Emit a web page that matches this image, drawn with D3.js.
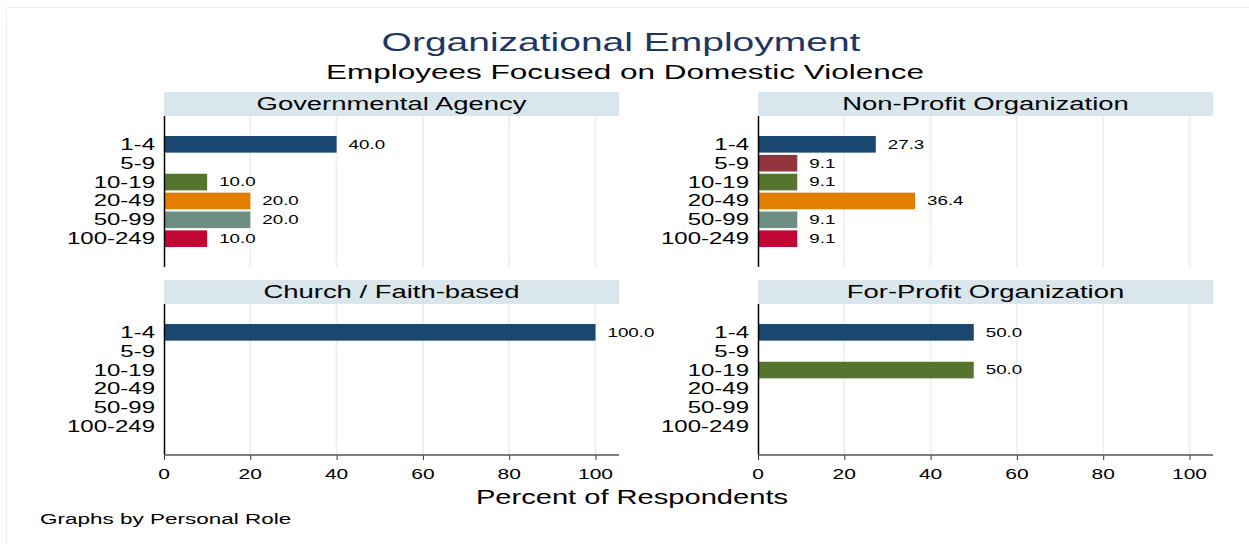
<!DOCTYPE html>
<html>
<head>
<meta charset="utf-8">
<script src="https://cdn.jsdelivr.net/npm/d3@7"></script>
<style>
  body { margin: 0; background: #fff; }
  text { font-family: "Liberation Sans", Arial, sans-serif; }
</style>
</head>
<body>
<div id="chart"></div>
<script>
// categories and values
const sizes = ['1-4', '5-9', '10-19', '20-49', '50-99', '100-249'];
const panels = ['Governmental Agency', 'Non-Profit Organization', 'Church / Faith-based', 'For-Profit Organization'];
const govValues = [40.0, null, 10.0, 20.0, 20.0, 10.0];
const nonProfitValues = [27.3, 9.1, 9.1, 36.4, 9.1, 9.1];
const churchValues = [100.0, null, null, null, null, null];
const forProfitValues = [50.0, null, 50.0, null, null, null];
const xTicks = [0, 20, 40, 60, 80, 100];

// stata s2color
const colors = ['#1a476f', '#90353b', '#55752f', '#e37e00', '#6e8e84', '#c10534'];

const width = 1249, height = 544;
const sx = 1.5; // text is drawn horizontally stretched

const svg = d3.select('#chart').append('svg')
  .attr('width', width)
  .attr('height', height);

// faint outer frame
svg.append('rect')
  .attr('x', 6.5).attr('y', 7.5)
  .attr('width', 1300).attr('height', 600)
  .attr('fill', 'none')
  .attr('stroke', '#e6eff1');

// helper for stretched text
function stext(g, x, y, str, size, anchor, color) {
  return g.append('text')
    .attr('transform', `translate(${x},${y}) scale(${sx},1)`)
    .attr('text-anchor', anchor)
    .attr('dominant-baseline', 'central')
    .attr('font-size', size)
    .attr('fill', color || '#000')
    .text(str);
}

stext(svg, 621, 42, 'Organizational Employment', 26, 'middle', '#1c3766');
stext(svg, 625, 72, 'Employees Focused on Domestic Violence', 21, 'middle', '#000');

const panelData = [govValues, nonProfitValues, churchValues, forProfitValues];
const lefts = [164, 758];
const tops = [92, 280];
const panelW = 455;
const stripH = 24;
const plotH = 151;

panelData.forEach((vals, pi) => {
  const col = pi % 2, row = Math.floor(pi / 2);
  const x0 = lefts[col], y0 = tops[row];
  const g = svg.append('g');

  const x = d3.scaleLinear().domain([0, 100]).range([x0, x0 + 431.5]);
  const y = d3.scaleBand().domain(sizes)
    .range([y0 + stripH, y0 + stripH + plotH])
    .paddingInner(0.12).paddingOuter(1.06);

  // strip
  g.append('rect')
    .attr('x', x0).attr('y', y0)
    .attr('width', panelW).attr('height', stripH)
    .attr('fill', '#d9e6eb');
  stext(g, x0 + panelW / 2, y0 + stripH / 2, panels[pi], 18.3, 'middle');

  // grid
  g.selectAll('line.grid')
    .data(xTicks.filter(d => d > 0))
    .enter().append('line')
    .attr('class', 'grid')
    .attr('x1', d => x(d)).attr('x2', d => x(d))
    .attr('y1', y0 + stripH).attr('y2', y0 + stripH + plotH)
    .attr('stroke', '#eaf2f3')
    .attr('stroke-width', 2);

  // bars
  const items = sizes.map((s, i) => ({ s: s, v: vals[i], c: colors[i] })).filter(d => d.v != null);
  g.selectAll('rect.bar')
    .data(items)
    .enter().append('rect')
    .attr('class', 'bar')
    .attr('x', x(0))
    .attr('y', d => y(d.s))
    .attr('width', d => x(d.v) - x(0))
    .attr('height', y.bandwidth())
    .attr('fill', d => d.c);

  items.forEach(d => {
    stext(g, x(d.v) + 12, y(d.s) + y.bandwidth() / 2, d.v.toFixed(1), 12.5, 'start');
  });

  // category labels
  sizes.forEach(s => {
    stext(g, x0 - 9, y(s) + y.bandwidth() / 2, s, 16, 'end');
  });

  // y axis line
  g.append('line')
    .attr('x1', x0 + 0.5).attr('x2', x0 + 0.5)
    .attr('y1', y0 + stripH).attr('y2', y0 + stripH + plotH)
    .attr('stroke', '#000').attr('stroke-width', 1.5);

  if (row === 1) {
    const axisY = y0 + stripH + plotH;
    const ax = g.append('g')
      .attr('transform', `translate(0,${axisY})`)
      .call(d3.axisBottom(x).tickValues(xTicks).tickSize(5).tickFormat(''));
    ax.select('.domain').remove();
    ax.selectAll('.tick line').attr('stroke', '#333');
    g.append('line')
      .attr('x1', x0).attr('x2', x0 + panelW)
      .attr('y1', axisY).attr('y2', axisY)
      .attr('stroke', '#555').attr('stroke-width', 1.5);
    xTicks.forEach(t => {
      stext(g, x(t), axisY + 19, t, 14, 'middle');
    });
  }
});

stext(svg, 632, 497, 'Percent of Respondents', 19.4, 'middle');
stext(svg, 40, 519, 'Graphs by Personal Role', 15, 'start');
</script>
</body>
</html>
